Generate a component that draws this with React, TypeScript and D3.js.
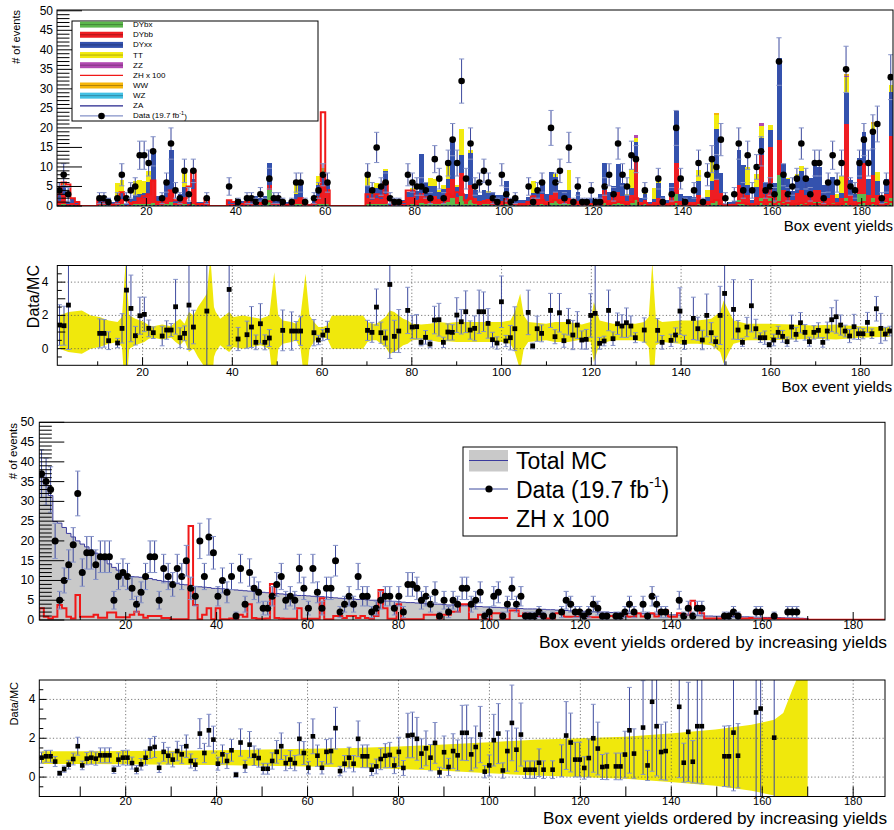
import React from "react";
import * as d3 from "d3";

const n = null;

// ---------- Panel 1 : per-bin yields (187 bins) ----------
const data1 = [4,8,3,0,0,0,0,0,0,2, 2,1,0,2,8,2,4,5,13,13, 11,14,0,2,6,16,4,2,9,3, 9,0,0,2,0,0,0,0,5,0,
 1,0,2,2,1,3,1,7,2,2, 1,0,1,6,6,1,0,2,4,8, 6,0,0,0,0,0,0,0,0,8, 4,15,5,6,2,1,1,0,8,6,
 5,5,4,2,12,7,2,11,17,11, 32,7,16,5,6,9,6,2,1,8, 3,1,2,0,0,5,1,4,6,0, 20,6,9,2,15,1,5,1,1,4,
 1,1,5,8,3,16,8,5,13,12, 0,4,0,0,7,1,0,3,20,7, 1,0,4,11,1,8,12,10,17,2, 0,3,16,4,13,4,10,14,4,5,
 3,37,8,3,5,7,16,7,3,11, 11,2,6,13,6,11,35,5,4,11, 17,11,19,21,2,6,33];
const dybx = [0.3,0.5,0.1,0.2,0.1,0,0,0,0,0.2, 0.2,0.2,0.1,0.3,0.4,0.1,0.2,0.4,0.5,0.4, 0.6,0.8,0.2,0.2,0.4,1.0,0.2,0.3,0.5,0.1,
 0.4,0.1,0.1,0.1,0,0,0,0,0.1,0.1, 0.2,0.1,0.2,0.1,0.2,0.2,0.3,4.0,0.2,0.2, 0.1,0.1,0.1,0.4,0.4,0.1,0.1,0.2,0.5,0.6,
 0.4,0,0,0,0,0,0,0,0,0.5, 0.4,0.4,0.4,0.6,0.1,0.1,0.1,0.1,0.3,0.4, 0.3,0.8,0.5,0.5,0.5,0.4,0.6,1.0,2.0,0.6,
 2.5,0.4,1.5,0.5,0.3,0.4,0.4,0.4,0.3,0.3, 0.6,0.2,0.2,0.2,0.2,0.2,0.5,0.3,0.6,0.3, 0.7,1.2,0.4,0.5,0.6,0.1,0.3,0.2,0.2,0.2,
 0.1,0.3,1.0,0.4,0.5,1.0,0.6,0.4,0.8,1.5, 0.2,0.4,0.1,0.3,0.5,0.3,0.2,0.5,3.0,0.3, 0.3,0.3,0.2,0.8,0.2,0.4,1.0,1.5,0.8,0.1,
 0.1,0.1,1.5,1.0,0.8,0.2,0.8,2.0,0.6,2.0, 1.0,8.0,1.0,0.8,0.4,0.8,1.0,0.7,0.8,1.0, 1.0,0.5,0.5,0.7,0.3,0.6,2.0,0.8,0.3,3.0,
 3.0,0.7,2.0,0.8,0.2,1.0,2.0];
const dybb = [1.0,2.4,0.4,0.6,0.4,0,0,0,0,0.6, 0.7,0.5,0.3,0.8,1.5,0.2,0.5,1.0,1.2,1.6, 2.6,5.6,0.7,0.8,1.5,3.0,0.5,0.8,1.5,0.4,
 4.0,0.4,0.4,0.3,0,0,0,0,0.5,0.3, 0.5,0.4,0.7,0.5,0.8,0.6,0.9,1.5,0.6,0.5, 0.3,0.3,0.3,1.2,1.3,0.4,0.2,0.6,2.0,4.5,
 4.0,0,0,0,0,0,0,0,0,1.5, 1.2,1.6,1.4,2.5,0.2,0.5,0.3,0.5,2.0,2.0, 1.2,2.5,2.0,2.0,2.0,1.3,1.5,3.5,5.0,1.8,
 6.0,1.2,4.0,1.5,1.0,1.2,1.5,1.2,1.0,0.8, 1.5,0.5,0.6,0.5,0.5,0.7,1.5,1.5,2.5,1.0, 2.0,2.5,1.5,1.5,1.5,0.4,1.0,0.6,0.5,0.6,
 0.2,1.0,3.0,1.2,2.0,2.5,2.0,1.0,2.0,10.5, 0.7,1.2,0.3,0.6,1.5,0.8,0.5,2.0,8.0,1.0, 0.8,0.8,0.7,2.0,0.6,1.0,3.0,5.5,2.5,0.2,
 0.3,0.4,4.0,3.0,2.0,0.5,1.5,11.0,2.5,13.0, 2.5,9.0,3.0,2.5,1.2,2.5,3.0,2.0,2.5,3.0, 3.0,1.5,1.5,2.0,0.8,1.5,19.0,2.0,1.0,4.0,
 8.0,2.0,6.0,2.0,0.5,2.0,16.0];
const dyxx = [1.5,2.6,0.6,1.2,0.7,0,0,0,0,1.4, 1.3,1.4,0.6,1.2,1.4,0.3,1.0,1.5,1.3,1.4, 3.0,7.4,1.6,1.6,3.5,10.3,0.9,1.9,2.8,0.6,
 2.5,0.5,0.5,0.5,0,0,0,0,0.8,0.6, 1.0,0.7,1.5,0.9,1.6,1.2,1.4,5.4,1.2,1.1, 0.5,0.6,0.5,1.5,3.6,0.7,0.2,1.3,3.0,3.5,
 1.1,0,0,0,0,0,0,0,0,3.0, 1.5,2.5,3.4,5.8,0.2,0.8,0.5,0.9,1.2,1.5, 2.3,9.9,3.4,2.6,2.5,1.8,2.2,2.5,9.3,2.5,
 4.5,1.6,8.0,2.1,1.4,2.5,1.5,2.1,1.6,1.7, 4.4,0.8,0.9,0.8,0.8,1.4,1.3,1.5,3.4,1.7, 6.0,3.6,2.3,2.2,2.0,0.7,2.2,1.1,1.1,1.2,
 0.2,1.8,6.9,1.9,2.5,7.2,3.3,1.5,1.8,4.5, 1.1,1.5,0.6,0.8,4.0,1.5,0.8,3.5,13.4,1.8, 1.5,1.4,1.3,3.5,1.1,1.0,2.5,12.8,5.2,0.3,
 0.6,0.8,8.8,6.5,2.5,0.9,2.5,4.5,3.0,4.5, 2.3,20.8,6.8,3.5,2.2,4.3,5.0,4.4,3.8,7.2, 6.0,3.3,3.7,4.8,1.0,1.2,8.0,3.8,1.7,5.2,
 7.9,4.3,11.1,3.5,0.9,3.8,11.1];
const ttbar = [0,0.3,0,0,0,0,0,0,0,0, 0,0,0,3.6,3.3,0,0,3.5,3.6,2.9, 2.8,0.8,0,0,0,0,0,0,5.0,0,
 0,0,0,0,0,0,0,0,0,0, 0,0,0,0,0,0,0,0,0,0, 0,0,0,2.6,0.4,0,0,0,2.2,1.2,
 0,0,0,0,0,0,0,0,0,2.3, 1.0,1.5,0,0.5,0,0,0,0,0,0.7, 0,0,0,2.0,2.0,0.5,1.0,4.0,1.0,0.5,
 6.8,0,0.8,0,0,0,0.5,0,0,0, 0,0,0,0,0,0,3.0,0,0,0, 0,1.0,0,0,5.2,0,0,0,0,0,
 0,0,0,0,0,0,0,0.3,5.0,1.0, 0,0.5,0,2.8,0.4,0,0,0,0,0, 0,0,0,2.9,0,1.6,6.0,3.5,0,0,
 0,0,0,0,4.7,0,3.5,3.0,0,1.3, 0,0,0,0.3,0,0.5,1.3,0,0,0, 0,0,0,0,1.0,4.4,4.0,0,0,0,
 0,0,2.0,2.5,0,0,2.0];
const zzBins = [[130, 0.7], [158, 0.7], [177, 0.3]];
const wwBins = [[148, 0.6], [177, 0.5], [183, 0.3]];
const zh1 = [3,6,5.5,2,1,0,0,0,0,1.5, 1.5,0.5,0.3,0.5,3.5,1.5,0.8,1,2,2.5, 3,6.5,1,1,2,4,1.5,1.5,2,5,
 9,0.5,0.5,2,0,0,0,0,1.5,1, 0.5,0.5,1,1.5,1,0.8,1,1.2,0.5,0.5, 0.3,0.3,0.5,1.5,2,0.3,0.2,0.5,2,24,
 4,0,0,0,0,0,0,0,0,3, 2,3,2.5,6,1.5,0.5,0.5,1,4,4, 1,1.5,1,1,1.5,1,2,3,2.5,3.5,
 3,1.5,2,1,1,1,1.5,0.5,0.5,1, 1.5,0.5,0.5,0.3,0.3,1,2.5,1.5,1.5,0.5, 1,1.5,1,0.8,1,1.5,0.5,0.3,0.3,0.5,
 0.2,0.5,1,0.5,0.8,1,1,0.5,1,2, 0.5,0.8,0.3,0.3,0.5,0.3,0.3,0.5,1,0.5, 0.3,0.3,0.3,0.8,0.3,0.5,1,1.5,0.5,0.2,
 0.2,0.3,0.8,0.8,0.5,0.3,0.5,1,0.5,1, 0.5,1,0.5,0.8,0.3,0.5,0.8,0.3,0.5,0.5, 0.5,0.3,0.5,0.3,0.3,0.5,1,0.5,0.3,0.8,
 1,0.5,0.8,0.5,0.2,0.5,1];

// ---------- Panel 2 : Data/MC per bin ----------
const ratio1 = [1.42,1.38,2.62,n,n,n,n,n,n,0.92, 0.92,0.48,n,0.34,1.22,3.52,2.42,0.78,1.98,2.06,
 1.22,0.96,n,0.76,1.12,1.12,2.52,0.66,0.92,2.62, 1.3,n,n,2.26,n,n,n,n,3.56,n,
 0.58,n,0.84,1.3,0.38,1.5,0.38,0.64,n,n, 1.1,n,1.06,1.06,1.06,n,n,0.96,0.52,0.82,
 1.1,n,n,n,n,n,n,n,n,1.1, 0.98,2.5,0.96,0.64,3.86,0.74,1.06,n,2.3,1.3,
 1.32,0.38,0.68,0.28,1.72,1.74,0.38,1.0,0.98,2.02, 1.62,2.22,1.12,1.22,2.22,2.22,1.52,0.54,0.34,2.82,
 0.46,0.66,1.2,n,n,2.18,0.16,1.2,0.92,n, 2.3,0.72,2.16,0.48,1.62,0.82,1.42,0.52,0.56,2.0,
 2.12,0.32,0.46,2.3,0.6,1.5,1.36,1.56,1.36,0.66, n,1.12,n,n,1.1,0.38,n,0.5,0.82,2.26,
 0.38,n,1.82,1.2,0.52,2.0,0.96,0.42,2.0,3.32, n,2.36,1.12,0.38,1.3,2.58,1.2,0.66,0.66,0.24,
 0.52,0.98,0.74,0.42,1.3,0.86,1.56,0.98,0.42,0.98, 1.1,0.38,1.06,1.74,1.92,1.42,1.06,0.76,1.32,0.9,
 0.9,1.58,0.9,2.4,1.22,0.88,1.06];
const band1Bin = [1,3,6,8,10,12,14,15,15.8,16.6,18,20,21,22,24,26,27,28,29,30,31,32,33,34,34.8,35.6,36,37,38,39,40,42,44,46,48,49.1,50,51,53,54,55,56.1,57,58,59,60,61,62,69,70,71,72,73,74,75,76,77,78,79,80,82,84,86,88,90,95,100,102,103,104.2,105,106,110,112,115,118,120,120.7,122,125,128,130,132,133,133.8,134.6,136,140,144,147,149,149.8,151,152,155,160,165,170,175,180,185,187];
const band1Sig = [1.0,1.2,1.3,1.0,0.9,0.7,0.6,0.9,4.2,1.0,0.8,0.6,0.4,0.35,0.45,0.35,0.6,0.8,0.5,1.2,1.0,1.5,1.9,2.3,4.5,1.5,1.2,0.8,1.0,1.2,0.9,1.0,0.9,0.8,1.0,3.6,1.0,0.7,0.6,0.5,1.0,3.5,1.0,0.6,0.3,0.3,0.4,1.0,1.0,0.6,0.5,0.5,0.7,0.9,1.3,1.2,1.0,0.8,0.7,0.5,0.45,0.5,0.6,0.55,0.6,0.6,0.6,0.7,1.2,2.3,1.0,0.6,0.5,0.6,0.6,0.45,0.6,1.8,0.7,0.5,0.5,0.5,0.6,0.9,4.2,0.8,0.6,0.7,0.7,0.8,1.2,1.9,1.2,0.7,0.5,0.5,0.45,0.4,0.45,0.35,0.3,0.3];

// ---------- Panel 3 : bins ordered by MC yield ----------
const mcSorted = [37.0,34.0,31.5,24.9,24.5,23.4,21.9,21.0,20.0,19.2, 18.5,17.7,16.9,16.0,15.2,14.2,13.3,12.6,12.2,11.4,
 11.0,10.9,10.8,10.6,10.5,10.2,10.0,9.8,9.7,9.5, 9.2,9.0,8.9,8.7,8.5,8.4,8.3,8.2,8.0,8.0,
 7.9,7.8,7.7,7.6,7.5,7.4,7.3,7.2,7.1,7.0, 6.9,6.8,6.7,6.6,6.5,6.4,6.3,6.2,6.2,6.1,
 6.0,5.9,5.9,5.8,5.7,5.6,5.5,5.4,5.4,5.3, 5.2,5.2,5.1,5.0,5.0,4.9,4.8,4.8,4.7,4.6,
 4.5,4.4,4.4,4.3,4.2,4.1,4.1,4.0,4.0,3.9, 3.8,3.8,3.7,3.6,3.6,3.5,3.4,3.4,3.3,3.3,
 3.2,3.2,3.1,3.0,3.0,2.9,2.9,2.8,2.8,2.8, 2.7,2.7,2.6,2.6,2.5,2.5,2.4,2.3,2.3,2.2,
 2.2,2.1,2.1,2.0,2.0,2.0,1.9,1.9,1.8,1.8, 1.7,1.7,1.6,1.6,1.55,1.5,1.5,1.4,1.35,1.3,
 1.3,1.25,1.2,1.15,1.1,1.1,1.05,1.0,1.0,0.95, 0.95,0.9,0.9,0.85,0.85,0.8,0.8,0.75,0.7,0.7,
 0.65,0.65,0.6,0.6,0.55,0.55,0.5,0.5,0.45,0.4, 0,0,0,0,0,0,0,0,0,0, 0,0,0,0,0,0,0];
const dataSorted = [37,35,33,20,5,10,14,19,32,12, 17,17,14,16,16,16,5,11,12,11, 8,4,7,11,16,16,5,13,11,9,
 13,11,15,8,6,20,11,21,17,6, 10,7,11,1,13,4,12,8,7,3, 3,6,9,11,5,6,5,13,8,3,
 13,7,3,8,8,15,2,4,6,4, 11,6,6,2,3,5,6,6,3,6, 2,9,9,8,5,6,4,7,1,5,
 2,5,4,8,8,4,5,7,1,2, 6,7,1,4,8,4,6,1,1,1, 2,1,0,1,0,2,5,4,2,2,
 1,2,4,3,1,1,0,1,1,2, 4,2,0,4,1,6,4,2,2,0, 0,5,1,3,1,3,3,0,0,0,
 0,1,1,2,1,0,0,0,2,2, 0,0,1,0,0,2,2,2,0,0, 0,0,0,0,0,0,0,0,0,0, 0,0,0,0,0,0,0];
const zhSorted = [3,0.8,0.4,0.8,3.8,3.0,0.8,0.4,6.3,0.8, 0.8,0.8,1.3,0.6,0.6,1.9,1.9,0.7,0.7,0.7,
 1.3,2.1,1.3,0.6,1.0,1.0,1.0,0.5,0.5,0.2, 0.2,0.2,0.2,23.8,3.8,0.2,1.3,3.0,0.2,3.0,
 0.2,0.2,0.4,0.2,1.3,0.8,4.0,0.5,0.3,0.3, 0.4,9.1,0.5,0.4,0.3,0.3,0.3,3.0,0.3,0.3,
 0.3,0.3,5.5,0.2,0.2,1.0,1.0,0.5,1.0,1.0, 0.5,1.0,0.5,0.3,1.0,7.6,3.0,0.3,0.3,4.0,
 0.2,0.2,0.2,0.2,0.2,1.3,1.3,1.3,0.4,1.3, 1.3,2.1,2.1,4.0,4.0,0.2,0.2,1.3,0.2,0.2,
 1.7,1.7,0.2,0.2,2.4,2.4,1.0,1.7,0.8,0.8, 0.8,0.8,0.4,0.4,1.7,1.7,0.8,0.8,0.8,0.8,
 1.3,0.7,0.7,0.7,0.7,1.0,1.0,0.7,0.7,1.85, 0.8,0.8,1.7,0.9,0.9,1.7,0.9,2.4,2.4,0.8,
 0.8,1.7,1.3,1.3,4.9,3.5,1.7,0.4,0.4,0.4, 0.4,0.8,0.8,2.1,1.3,0.4,0.4,0.5,0.5,0.5,
 0.4,0.4,0.4,0.3,0.3,0.3,0.3,0.2,0.2,0.1, 0.05,0.05,0.05,0.05,0.05,0.05,0.05,0.05,0.05,0.05,
 0.05,0.05,0.05,0.05,0.05,0.05,0.05];

// ---------- Panel 4 : ordered Data/MC ----------
const ratioSorted = [1.0,1.07,1.07,0.8,0.2,0.41,0.64,0.93,1.59,0.6, 0.95,1.0,0.95,1.12,1.12,1.12,0.38,0.9,1.0,1.0,
 0.72,0.38,0.66,1.0,1.47,1.55,0.48,1.3,1.1,0.9, 1.34,1.17,1.59,0.83,0.64,2.24,1.24,2.41,1.93,0.69,
 1.17,0.83,1.38,0.12,1.78,0.55,1.67,1.1,0.98,0.43, 0.43,0.83,1.3,1.59,0.72,0.9,0.72,1.97,1.24,0.48,
 2.1,1.1,0.48,1.3,1.34,2.52,0.31,0.69,1.0,0.69, 1.97,1.07,1.07,0.38,0.55,0.93,1.1,1.14,0.6,1.3,
 0.47,2.14,2.17,1.97,1.21,1.48,1.0,1.76,0.24,1.28, 0.52,1.34,1.12,2.28,2.28,1.17,1.55,2.19,0.28,0.6,
 1.9,2.24,0.34,1.34,2.79,1.41,2.19,0.38,0.38,0.38, 0.74,0.38,n,0.38,n,0.84,2.14,1.78,0.9,0.9,
 0.47,0.98,2.0,1.47,0.52,0.55,n,0.55,0.55,1.16, 2.41,1.21,n,2.55,0.6,3.88,2.62,1.29,1.34,n,
 n,3.62,0.74,2.33,0.79,2.62,2.62,n,n,n, n,1.07,1.07,2.29,1.1,n,n,n,3.33,3.53,
 n,n,2.03,n,n,n,n,n,n,n, n,n,n,n,n,n,n,n,n,n, n,n,n,n,n,n,n];
const band2Bin = [1,10,20,30,40,50,60,70,80,90,100,110,120,130,140,150,158,163,165,167,169,170.4];
const band2Sig = [0.33,0.33,0.34,0.36,0.38,0.42,0.46,0.5,0.58,0.68,0.8,0.92,1.0,1.08,1.25,1.45,1.7,1.95,2.3,3.5,4.6,4.6];

// ---------- axes / legends ----------
const eventTicks = d3.range(0, 51, 5);
const binTicks = d3.range(20, 181, 20);
const ratioTicks = [0, 2, 4];
const legend1 = [
  { label: "DYbx", kind: "fill", color: "#5cb84c" },
  { label: "DYbb", kind: "fill", color: "#ee1d23" },
  { label: "DYxx", kind: "fill", color: "#3452ae" },
  { label: "TT", kind: "fill", color: "#f2eb0f" },
  { label: "ZZ", kind: "fill", color: "#b24ab2" },
  { label: "ZH x 100", kind: "line", color: "#f01818" },
  { label: "WW", kind: "fill", color: "#f6b60a" },
  { label: "WZ", kind: "fill", color: "#42c0e4" },
  { label: "ZA", kind: "line", color: "#23238c" },
  { label: "Data (19.7 fb", kind: "data", color: "#000" },
];

const FONT = "'Liberation Sans', Arial, Helvetica, sans-serif";
const C = { err: "#3d4a9e", cap: "#8592c8", band: "#f0e80c", gray: "#c9c9c9", mc: "#3b3b9e", zh: "#f01818", grid: "#555" };
const F1 = { l: 57, r: 893, t: 10, b: 206 };
const F2 = { l: 57.3, r: 892, t: 265.5, b: 365.3 };
const F3 = { l: 39.3, r: 885, t: 422.3, b: 620 };
const F4 = { l: 39.3, r: 885, t: 680, b: 796.5 };
const NB = 187;
const W = 186 / 187;

function sparse(pairs: number[][]) {
  const a = new Array(NB).fill(0);
  pairs.forEach(([k, v]) => (a[k - 1] = v));
  return a;
}

function errBar(key: string, x: number, v: number, e: number, y: any, F: any, cap: number) {
  const yt = y(v + e), yb = y(v - e);
  const t = Math.max(yt, F.t), b = Math.min(yb, F.b);
  const out = [<line key={key + "v"} x1={x} x2={x} y1={t} y2={b} stroke={C.err} strokeWidth={1} />];
  if (yt >= F.t) out.push(<line key={key + "t"} x1={x - cap} x2={x + cap} y1={yt} y2={yt} stroke={C.cap} strokeWidth={1} />);
  if (yb <= F.b) out.push(<line key={key + "b"} x1={x - cap} x2={x + cap} y1={yb} y2={yb} stroke={C.cap} strokeWidth={1} />);
  return out;
}

function stepPath(vals: number[], edge: (i: number) => number, y: any) {
  const line = d3.line<number>().x((i) => edge(i)).y((i) => y(vals[Math.min(i, vals.length - 1)])).curve(d3.curveStepAfter);
  const p = line(d3.range(vals.length + 1)) as string;
  return `M${edge(0)},${y(0)}L` + p.slice(1) + `V${y(0)}`;
}

export default function App() {
  const x1 = d3.scaleLinear().domain([0, 187]).range([F1.l, F1.r]);
  const y1 = d3.scaleLinear().domain([0, 50.2]).range([F1.b, F1.t]);
  const x2 = d3.scaleLinear().domain([1, 187]).range([F2.l, F2.r]);
  const y2 = d3.scaleLinear().domain([-1, 5]).range([F2.b, F2.t]);
  const x3 = d3.scaleLinear().domain([1, 187]).range([F3.l, F3.r]);
  const y3 = d3.scaleLinear().domain([0, 50]).range([F3.b, F3.t]);
  const x4 = d3.scaleLinear().domain([1, 187]).range([F4.l, F4.r]);
  const y4 = d3.scaleLinear().domain([-1, 5]).range([F4.b, F4.t]);

  const e1 = (i: number) => x1(i);
  const c1 = (i: number) => x1(i + 0.5);
  const binV = (i: number) => 1 + (i + 0.5) * W;
  const edgeV = (i: number) => 1 + i * W;

  const zz = sparse(zzBins);
  const ww = sparse(wwBins);
  const comps = [
    { v: dybx, c: legend1[0].color }, { v: dybb, c: legend1[1].color }, { v: dyxx, c: legend1[2].color },
    { v: ttbar, c: legend1[3].color }, { v: zz, c: legend1[4].color }, { v: ww, c: legend1[6].color },
  ];
  const stackRects: any[] = [];
  for (let i = 0; i < NB; i++) {
    let base = 0;
    comps.forEach((cp, ci) => {
      const v = cp.v[i];
      if (v > 0) {
        stackRects.push(
          <rect key={`s${i}-${ci}`} x={e1(i)} y={y1(base + v)} width={e1(i + 1) - e1(i) + 0.3}
            height={y1(base) - y1(base + v)} fill={cp.c} shapeRendering="crispEdges" />
        );
      }
      base += v;
    });
  }

  const s1 = d3.scaleLinear().domain(band1Bin).range(band1Sig).clamp(true);
  const s2 = d3.scaleLinear().domain(band2Bin).range(band2Sig).clamp(true);

  const band1 = d3.area<number>()
    .x((k) => x2(1 + (k - 0.5) * W)).y0((k) => y2(1 - s1(k))).y1((k) => y2(1 + s1(k)))(band1Bin) as string;
  const band2 = d3.area<number>()
    .x((k) => x4(1 + (k - 0.5) * W)).y0((k) => y4(1 - s2(k))).y1((k) => y4(1 + s2(k)))(band2Bin) as string;

  const mcArea = d3.area<number>()
    .x((i) => x3(edgeV(i))).y0(y3(0)).y1((i) => y3(mcSorted[Math.min(i, NB - 1)]))
    .curve(d3.curveStepAfter)(d3.range(NB + 1)) as string;

  const yTicksEvents = (F: any, y: any, big: number) =>
    d3.range(0, 51, 1).map((v) => (
      <line key={`yt${F.t}-${v}`} x1={F.l} x2={F.l + (v % 5 === 0 ? big : big / 2)} y1={y(v)} y2={y(v)} stroke="#000" strokeWidth={1} />
    ));
  const xTicks = (F: any, x: any, maj: number, min: number) =>
    d3.range(10, 181, 10).map((v) => (
      <line key={`xt${F.t}-${v}`} x1={x(v)} x2={x(v)} y1={F.b} y2={F.b - (v % 20 === 0 ? maj : min)} stroke="#000" strokeWidth={1} />
    ));
  const yTicksRatio = (F: any, y: any, maj: number, min: number) =>
    d3.range(-0.5, 5, 0.5).map((v) => (
      <line key={`yr${F.t}-${v}`} x1={F.l} x2={F.l + (Number.isInteger(v) ? maj : min)} y1={y(v)} y2={y(v)} stroke="#000" strokeWidth={1} />
    ));
  const grid = (F: any, x: any, y: any) => [
    ...binTicks.map((v) => <line key={`gx${F.t}-${v}`} x1={x(v)} x2={x(v)} y1={F.t} y2={F.b} stroke={C.grid} strokeWidth={0.8} strokeDasharray="1.2,2.2" />),
    ...ratioTicks.map((v) => <line key={`gy${F.t}-${v}`} x1={F.l} x2={F.r} y1={y(v)} y2={y(v)} stroke={C.grid} strokeWidth={0.8} strokeDasharray="1.2,2.2" />),
  ];
  const frame = (F: any, key: string) => (
    <rect key={key} x={F.l} y={F.t} width={F.r - F.l} height={F.b - F.t} fill="none" stroke="#000" strokeWidth={1} />
  );
  const clip = (F: any, id: string) => (
    <clipPath id={id} key={id}><rect x={F.l} y={F.t} width={F.r - F.l} height={F.b - F.t} /></clipPath>
  );

  const pts1: any[] = [];
  data1.forEach((d, i) => {
    if (d > 0) {
      pts1.push(...errBar(`d1-${i}`, c1(i), d, Math.sqrt(d), y1, F1, 2.6));
      pts1.push(<circle key={`p1-${i}`} cx={c1(i)} cy={y1(d)} r={3.3} fill="#000" />);
    }
  });
  const pts2: any[] = [];
  ratio1.forEach((r, i) => {
    if (r !== null && data1[i] > 0) {
      const k = i + 1;
      const e = r * Math.sqrt(1 / data1[i] + Math.pow(0.7 * s1(k), 2));
      const x = x2(binV(i));
      pts2.push(...errBar(`d2-${i}`, x, r, e, y2, F2, 2.4));
      pts2.push(<rect key={`p2-${i}`} x={x - 2.4} y={y2(r) - 2.4} width={4.8} height={4.8} fill="#000" />);
    }
  });
  const pts3: any[] = [];
  dataSorted.forEach((d, i) => {
    if (d > 0) {
      const x = x3(binV(i));
      pts3.push(...errBar(`d3-${i}`, x, d, Math.sqrt(d), y3, F3, 2.6));
      pts3.push(<circle key={`p3-${i}`} cx={x} cy={y3(d)} r={3.5} fill="#000" />);
    }
  });
  const pts4: any[] = [];
  ratioSorted.forEach((r, i) => {
    if (r !== null && dataSorted[i] > 0) {
      const k = i + 1;
      const e = r * Math.sqrt(1 / dataSorted[i] + Math.pow(0.7 * s2(k), 2));
      const x = x4(binV(i));
      pts4.push(...errBar(`d4-${i}`, x, r, e, y4, F4, 2.4));
      pts4.push(<rect key={`p4-${i}`} x={x - 2.3} y={y4(r) - 2.3} width={4.6} height={4.6} fill="#000" />);
    }
  });

  const tickLabelsX = (x: any, yb: number, fs: number, key: string) =>
    binTicks.map((v) => (
      <text key={`${key}${v}`} x={x(v)} y={yb} fontSize={fs} textAnchor="middle">{v}</text>
    ));

  return (
    <div style={{ position: "absolute", left: 0, top: 0 }}>
      <svg width={894} height={830} style={{ display: "block", background: "#fff" }} fontFamily={FONT}>
        <defs>
          {clip(F1, "c1")}{clip(F2, "c2")}{clip(F3, "c3")}{clip(F4, "c4")}
        </defs>
        <rect x={0} y={0} width={894} height={830} fill="#fff" />

        {/* ================= Panel 1 ================= */}
        <g clipPath="url(#c1)">
          {stackRects}
          <line x1={F1.l} x2={F1.r} y1={y1(0) - 0.5} y2={y1(0) - 0.5} stroke="#23238c" strokeWidth={1} strokeDasharray="2,2" />
          <path d={stepPath(zh1, e1, y1)} fill="none" stroke={C.zh} strokeWidth={2} />
          {pts1}
        </g>
        {yTicksEvents(F1, y1, 25)}
        {xTicks(F1, x1, 8, 4)}
        {frame(F1, "f1")}
        {eventTicks.map((v) => (
          <text key={`l1y${v}`} x={F1.l - 4} y={y1(v)} fontSize={12} textAnchor="end" dominantBaseline="central">{v}</text>
        ))}
        {tickLabelsX(x1, 215, 11, "l1x")}
        <text x={893} y={231} fontSize={15} textAnchor="end">Box event yields</text>
        <text transform="translate(20,10) rotate(-90)" fontSize={11} textAnchor="end"># of events</text>

        {/* legend 1 */}
        <rect x={72} y={21} width={246} height={100} fill="#fff" stroke="#000" strokeWidth={1} />
        {legend1.map((it, i) => {
          const yy = 24.6 + i * 10.15;
          let sym: any = null;
          if (it.kind === "fill") {
            sym = (
              <g>
                <rect x={80} y={yy - 3} width={43} height={6} fill={it.color} />
                <line x1={80} x2={123} y1={yy} y2={yy} stroke={d3.color(it.color)!.darker(1.2).toString()} strokeWidth={0.8} />
              </g>
            );
          } else if (it.kind === "line") {
            sym = <line x1={80} x2={123} y1={yy} y2={yy} stroke={it.color} strokeWidth={1.3} />;
          } else {
            sym = (
              <g>
                <line x1={80} x2={123} y1={yy} y2={yy} stroke={C.cap} strokeWidth={1.2} />
                <circle cx={101.5} cy={yy} r={3.3} fill="#000" />
              </g>
            );
          }
          return (
            <g key={`lg1-${i}`}>
              {sym}
              <text x={133} y={yy} fontSize={8} dominantBaseline="central">
                {it.label}
                {it.kind === "data" ? (
                  <>
                    <tspan dy={-3} fontSize={5.5}>-1</tspan>
                    <tspan dy={3}>)</tspan>
                  </>
                ) : null}
              </text>
            </g>
          );
        })}

        {/* ================= Panel 2 ================= */}
        <g clipPath="url(#c2)">
          <path d={band1} fill={C.band} />
          {grid(F2, x2, y2)}
          {pts2}
        </g>
        {yTicksRatio(F2, y2, 8, 4.5)}
        {xTicks(F2, x2, 8, 4)}
        {frame(F2, "f2")}
        {ratioTicks.map((v) => (
          <text key={`l2y${v}`} x={48.5} y={y2(v)} fontSize={12} textAnchor="end" dominantBaseline="central">{v}</text>
        ))}
        {tickLabelsX(x2, 375.5, 11.5, "l2x")}
        <text x={892} y={392} fontSize={15.2} textAnchor="end">Box event yields</text>
        <text transform="translate(39,265) rotate(-90)" fontSize={16} textAnchor="end">Data/MC</text>

        {/* ================= Panel 3 ================= */}
        <g clipPath="url(#c3)">
          <path d={mcArea} fill={C.gray} />
          <path d={stepPath(mcSorted, (i) => x3(edgeV(i)), y3)} fill="none" stroke={C.mc} strokeWidth={1} />
          <path d={stepPath(zhSorted, (i) => x3(edgeV(i)), y3)} fill="none" stroke={C.zh} strokeWidth={2} />
          {pts3}
        </g>
        {yTicksEvents(F3, y3, 25)}
        {xTicks(F3, x3, 8, 4)}
        {frame(F3, "f3")}
        {eventTicks.map((v) => (
          <text key={`l3y${v}`} x={F3.l - 5} y={y3(v)} fontSize={12.5} textAnchor="end" dominantBaseline="central">{v}</text>
        ))}
        {tickLabelsX(x3, 629, 12, "l3x")}
        <text x={887} y={648} fontSize={17.4} textAnchor="end">Box event yields ordered by increasing yields</text>
        <text transform="translate(16.5,423) rotate(-90)" fontSize={11.5} textAnchor="end"># of events</text>

        {/* legend 3 */}
        <rect x={463} y={447} width={214} height={89} fill="#fff" stroke="#000" strokeWidth={1} />
        <rect x={469} y={450} width={39} height={21.5} fill={C.gray} />
        <line x1={469} x2={508} y1={460.5} y2={460.5} stroke={C.mc} strokeWidth={1} />
        <text x={516} y={461} fontSize={23} dominantBaseline="central">Total MC</text>
        <line x1={469} x2={508} y1={489} y2={489} stroke={C.err} strokeWidth={1} />
        <circle cx={489} cy={489} r={3.6} fill="#000" />
        <text x={516} y={490} fontSize={23} dominantBaseline="central">
          Data (19.7 fb<tspan dy={-8} fontSize={14}>-1</tspan><tspan dy={8}>)</tspan>
        </text>
        <line x1={469} x2={508} y1={518} y2={518} stroke={C.zh} strokeWidth={2} />
        <text x={516} y={519} fontSize={23} dominantBaseline="central">ZH x 100</text>

        {/* ================= Panel 4 ================= */}
        <g clipPath="url(#c4)">
          <path d={band2} fill={C.band} />
          {grid(F4, x4, y4)}
          {pts4}
        </g>
        {yTicksRatio(F4, y4, 7, 4)}
        {xTicks(F4, x4, 10, 10)}
        {frame(F4, "f4")}
        {ratioTicks.map((v) => (
          <text key={`l4y${v}`} x={35.5} y={y4(v)} fontSize={12} textAnchor="end" dominantBaseline="central">{v}</text>
        ))}
        {tickLabelsX(x4, 805, 11, "l4x")}
        <text x={887} y={824} fontSize={17.2} textAnchor="end">Box event yields ordered by increasing yields</text>
        <text transform="translate(18,682) rotate(-90)" fontSize={11} textAnchor="end">Data/MC</text>
      </svg>
    </div>
  );
}
